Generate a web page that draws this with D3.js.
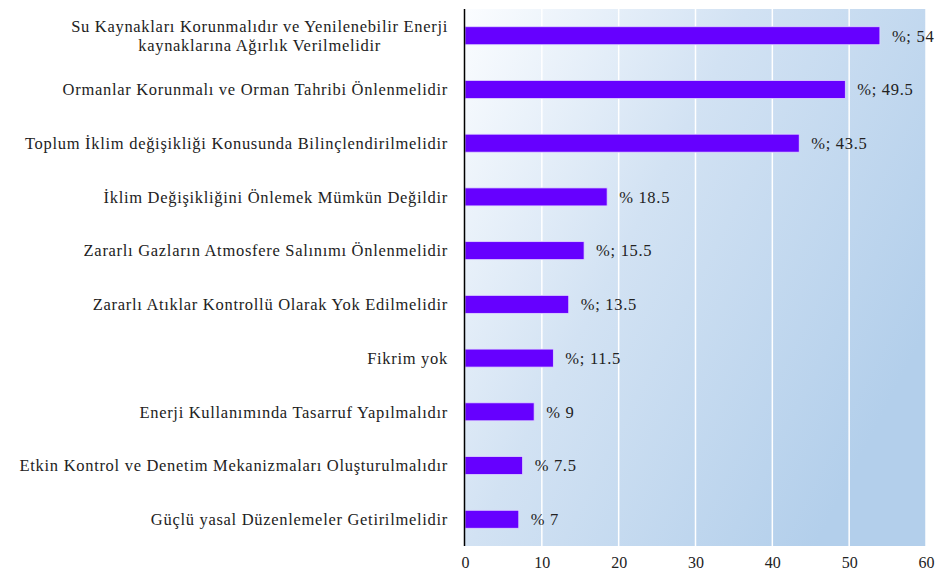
<!DOCTYPE html>
<html><head><meta charset="utf-8">
<script src="https://cdn.jsdelivr.net/npm/d3@7"></script>
<style>body{margin:0;background:#fff} svg text{font-family:"Liberation Serif","Tinos","Times New Roman","DejaVu Serif",serif;}</style>
</head><body>
<svg id="c" width="936" height="575"></svg>
<script>
const categories = [
  ["Su Kaynakları Korunmalıdır ve Yenilenebilir Enerji","kaynaklarına Ağırlık Verilmelidir"],
  ["Ormanlar Korunmalı ve Orman Tahribi Önlenmelidir"],
  ["Toplum İklim değişikliği Konusunda Bilinçlendirilmelidir"],
  ["İklim Değişikliğini Önlemek Mümkün Değildir"],
  ["Zararlı Gazların Atmosfere Salınımı Önlenmelidir"],
  ["Zararlı Atıklar Kontrollü Olarak Yok Edilmelidir"],
  ["Fikrim yok"],
  ["Enerji Kullanımında Tasarruf Yapılmalıdır"],
  ["Etkin Kontrol ve Denetim Mekanizmaları Oluşturulmalıdır"],
  ["Güçlü yasal Düzenlemeler Getirilmelidir"]
];
const values = [54, 49.5, 43.5, 18.5, 15.5, 13.5, 11.5, 9, 7.5, 7];
const valueLabels = ["%; 54","%; 49.5","%; 43.5","% 18.5","%; 15.5","%; 13.5","%; 11.5","% 9","% 7.5","% 7"];
const ticks = [0,10,20,30,40,50,60];

const svg = d3.select("#c");
const L = 465, R = 926, T = 9, B = 546;
const x = d3.scaleLinear().domain([0,60]).range([L,R]);
const y = d3.scaleBand().domain(d3.range(categories.length)).range([T,B]).paddingInner(0.665).paddingOuter(0.33);

const defs = svg.append("defs");
const g = defs.append("linearGradient").attr("id","bg").attr("x1","0").attr("y1","0").attr("x2","1").attr("y2","0.6");
g.append("stop").attr("offset","0").attr("stop-color","#fbfdff");
g.append("stop").attr("offset","0.45").attr("stop-color","#d2e2f3");
g.append("stop").attr("offset","1").attr("stop-color","#b3cfeb");

svg.append("rect").attr("x",L).attr("y",T).attr("width",R-L).attr("height",B-T).attr("fill","url(#bg)");

svg.append("g").selectAll("line").data(ticks.slice(1)).join("line")
  .attr("x1",d=>x(d)).attr("x2",d=>x(d)).attr("y1",T).attr("y2",B)
  .attr("stroke","#ffffff").attr("stroke-width",1.5);

svg.append("g").selectAll("rect").data(values).join("rect")
  .attr("x",x(0)).attr("y",(d,i)=>y(i)).attr("width",d=>x(d)-x(0)).attr("height",y.bandwidth())
  .attr("fill","#6600ff").attr("stroke","#e0d8ff").attr("stroke-width",0.8);

svg.append("line").attr("x1",L-0.5).attr("x2",L-0.5).attr("y1",T).attr("y2",B).attr("stroke","#000").attr("stroke-width",1.5);

const fs = 16.5, ls = 0.7;

svg.append("g").selectAll("text").data(valueLabels).join("text")
  .attr("x",(d,i)=>x(values[i])+12).attr("y",(d,i)=>y(i)+y.bandwidth()/2)
  .attr("dy","0.35em").attr("font-size",fs).attr("letter-spacing",ls).attr("fill","#222")
  .text(d=>d);

const cl = svg.append("g");
categories.forEach((lines,i)=>{
  const cy = y(i)+y.bandwidth()/2;
  const lh = 18.5;
  const t = cl.append("text").attr("text-anchor","middle").attr("font-size",fs).attr("letter-spacing",ls).attr("fill","#222");
  lines.forEach((ln,j)=>{
    t.append("tspan").attr("x",0).attr("y",cy+(j-(lines.length-1)/2)*lh).attr("dy","0.35em").text(ln);
  });
});
cl.selectAll("text").each(function(){
  const bb = this.getBBox();
  d3.select(this).attr("transform",`translate(${448 - bb.width/2},0)`);
});

const axis = d3.axisBottom(x).tickValues(ticks).tickSize(0).tickPadding(0);
const ax = svg.append("g").attr("transform",`translate(0,${B})`).call(axis);
ax.select(".domain").remove();
ax.attr("font-family",null);
ax.selectAll("text").attr("font-size",16).attr("fill","#222").attr("y",11);
</script>
</body></html>
